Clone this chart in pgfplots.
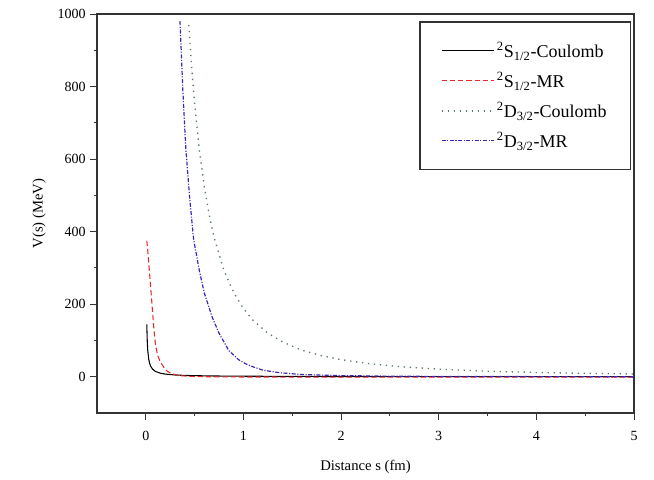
\documentclass[border=0pt]{standalone}
\usepackage{pgfplots}
\pgfplotsset{compat=1.18}
\usepackage{fontspec}
\setmainfont{Liberation Serif}

\definecolor{cblue}{RGB}{60,40,180}
\definecolor{cgray}{RGB}{90,125,100}
\definecolor{cred}{RGB}{230,40,40}

\begin{document}
\begin{tikzpicture}[x=0.75pt,y=0.75pt]
    \begin{axis}[
        scale only axis,
        width=402.75pt, height=299.25pt,
        xmin=-0.5, xmax=5,
        ymin=-100, ymax=1000,
        xtick={0,1,2,3,4,5},
        ytick={0,200,400,600,800,1000},
        minor x tick num=1,
        minor y tick num=1,
        tick align=outside,
        xtick pos=bottom, ytick pos=left,
        major tick length=5pt,
        minor tick length=2.5pt,
        axis line style={black!80, line width=0.8pt},
        every tick/.style={black!80, line width=0.7pt},
        /pgf/number format/assume math mode=true,
        /pgf/number format/1000 sep={},
        tick label style={font=\fontsize{10.5}{12}\selectfont},
        xticklabel style={yshift=-5pt},
        label style={font=\fontsize{11}{13}\selectfont},
        xlabel={Distance s (fm)},
        ylabel={V(s) (MeV)},
        xlabel style={yshift=-8pt},
        ylabel style={yshift=2pt},
        legend cell align=left,
        legend style={
            name=leg,
            at={(0.993,0.98)}, anchor=north east,
            draw=none, fill=white,
            font=\fontsize{13.5}{15}\selectfont,
            inner xsep=15.5pt, inner ysep=13pt,
            row sep=5.5pt,
            nodes={inner sep=2pt},
        },
        legend image code/.code={\draw[#1] (0pt,0pt) -- (39pt,0pt);},
    ]

    \addplot[color=black, line width=0.8pt] coordinates {
        (0.01,144) (0.015,96) (0.02,72) (0.03,48) (0.04,36) (0.05,28.8) (0.07,20.6)
        (0.1,14.4) (0.15,9.6) (0.2,7.2) (0.3,4.8) (0.4,3.6) (0.5,2.9) (0.7,2.0)
        (1,1.4) (1.5,0.9) (2,0.6) (3,0.3) (4,0.1) (5,0)
    };
    \addlegendentry{\textsuperscript{2}S\textsubscript{1/2}-Coulomb}

    \addplot[color=cred, line width=0.8pt, dash pattern=on 4pt off 2.2pt] coordinates {
        (0.01,375) (0.02,348) (0.03,313) (0.04,280) (0.05,245) (0.06,211) (0.07,175)
        (0.08,140) (0.09,110) (0.1,88) (0.12,60) (0.15,40) (0.185,26) (0.22,15)
        (0.27,7.5) (0.35,3) (0.45,1) (0.6,0) (1,-0.8) (2,-1) (3,-1) (4,-1) (5,-1)
    };
    \addlegendentry{\textsuperscript{2}S\textsubscript{1/2}-MR}

    \addplot[color=cgray, line width=1pt, dash pattern=on 1pt off 3.5pt] coordinates {
        (0.44,970) (0.47,850) (0.5,752) (0.55,621) (0.6,522) (0.65,445) (0.7,383)
        (0.8,293) (0.9,232) (1.0,188) (1.1,155) (1.25,120) (1.4,96) (1.6,73)
        (1.8,58) (2.0,47) (2.3,35.5) (2.6,27.8) (3.0,20.9) (3.5,15.3) (4.0,11.7)
        (4.5,9.3) (5.0,7.5)
    };
    \addlegendentry{\textsuperscript{2}D\textsubscript{3/2}-Coulomb}

    \addplot[color=cblue, line width=0.9pt, dash pattern=on 3pt off 1.2pt on 0.8pt off 1.2pt] coordinates {
        (0.35,980) (0.38,785) (0.41,628) (0.45,490) (0.49,378) (0.55,290) (0.6,230)
        (0.68,164) (0.75,120) (0.85,72) (0.95,47) (1.02,36) (1.1,27) (1.2,18)
        (1.37,11) (1.6,6) (2,3) (2.5,1.5) (3,0.8) (4,0.3) (5,0.1)
    };
    \addlegendentry{\textsuperscript{2}D\textsubscript{3/2}-MR}
    \end{axis}
    \draw[black!80, line width=0.8pt] (leg.south west) rectangle (leg.north east);
    \path (current axis.south west) ++(-97,-67) coordinate (bl);
    \path (current axis.north east) ++(20,14) coordinate (tr);
    \path (bl) rectangle (tr);
\end{tikzpicture}
\end{document}
